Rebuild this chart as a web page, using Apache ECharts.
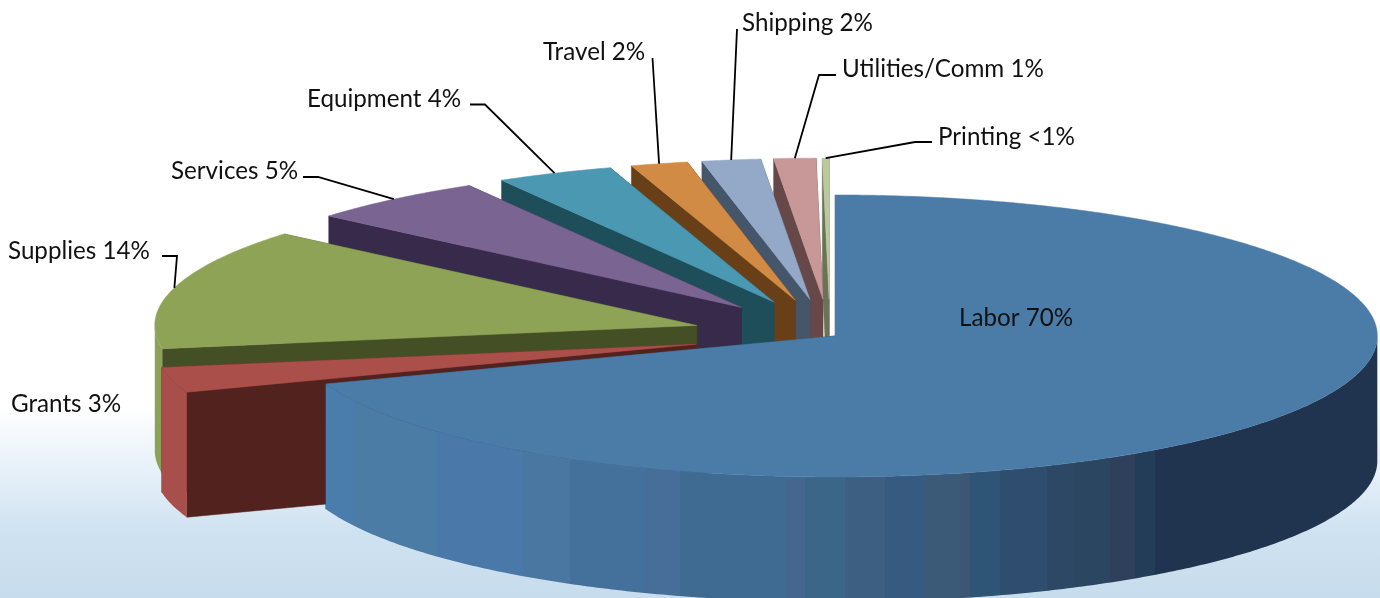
<!DOCTYPE html>
<html>
<head>
<meta charset="utf-8">
<title>Expenses</title>
<script src="https://cdn.jsdelivr.net/npm/echarts@6/dist/echarts.min.js"></script>
<style>
html, body { margin: 0; padding: 0; background: #fff; }
#main { width: 1380px; height: 598px; }
</style>
</head>
<body>
<div id="main"></div>
<script>
// the data, in the order the pie runs clockwise from twelve o'clock
var categories = ['Labor', 'Grants', 'Supplies', 'Services', 'Equipment', 'Travel', 'Shipping', 'Utilities/Comm', 'Printing'];
var shares = [69.6, 2.9, 13.9, 5.4, 3.5, 1.7, 1.75, 1.25, 0.2];
var shareLabels = ['70%', '3%', '14%', '5%', '4%', '2%', '2%', '1%', '<1%'];

// layout, kept apart from the data
var pieCenter = [830, 335];
var radiusX = 542, radiusY = 141, depth = 125;
var explode = [0.012, 0.255, 0.255, 0.255, 0.255, 0.255, 0.255, 0.255, 0.255];
var topColors = ['#4b7ba7', '#ab4f4b', '#8fa357', '#7a6592', '#4a98b1', '#d28b45', '#94a9c8', '#c89898', '#b9c99d'];
var faceColors = ['#2f4766', '#52221f', '#454f26', '#372a4a', '#1f4e5b', '#693f17', '#45566b', '#664848', '#6a7355'];
var rimColors = ['#4b7ba7', '#a84f4b', '#8ea257', '#7a6592', '#4a98b1', '#d28b45', '#94a9c8', '#c89898', '#b9c99d'];
// the labor rim is shaded in flat vertical bands: [right edge of band, colour]
var laborRimBands = [
    [353, '#4a7cac'], [437, '#4b7ca6'], [523, '#4a78a9'], [570, '#4a77a2'], [645, '#44719c'],
    [680, '#476d99'], [786, '#3f6a91'], [805, '#44668f'], [845, '#3c6687'], [885, '#3d5f82'],
    [925, '#365a80'], [960, '#3a5a77'], [970, '#3c5673'], [1000, '#2e5476'], [1047, '#2f4d6e'],
    [1075, '#2c4864'], [1110, '#2b4660'], [1135, '#2e405c'], [1155, '#233c57'], [1380, '#20344f']
];
// text left edge, text middle, then the line from beside the text
var labelPlaces = [
    { x: 959, y: 318 },
    { x: 11, y: 404 },
    { x: 8, y: 251, line: [[162, 256], [177, 256]] },
    { x: 171, y: 171, line: [[303, 177], [318, 177]] },
    { x: 307, y: 99, line: [[470, 104.5], [485, 104.5]] },
    { x: 543, y: 52, line: [[652.5, 58]] },
    { x: 742, y: 23, line: [[737, 29]] },
    { x: 842, y: 69, line: [[836, 75], [819, 75]] },
    { x: 938, y: 137, line: [[932, 142], [915, 142]] }
];

var total = shares.reduce(function (a, b) { return a + b; }, 0);
var starts = [];
shares.reduce(function (sum, v, i) { starts[i] = sum; return sum + v; }, 0);

function toRad(share) {
    return share / total * Math.PI * 2;
}

function laborRimFill() {
    var x0 = 325, x1 = 1380;
    var stops = [];
    var left = x0;
    laborRimBands.forEach(function (b) {
        stops.push({ offset: (left - x0) / (x1 - x0), color: b[1] });
        stops.push({ offset: (b[0] - x0) / (x1 - x0), color: b[1] });
        left = b[0];
    });
    return new echarts.graphic.LinearGradient(x0, 0, x1, 0, stops, true);
}

function renderSlice(params, api) {
    var i = api.value(0);
    var a0 = toRad(api.value(2));
    var a1 = a0 + toRad(api.value(1));
    var mid = (a0 + a1) / 2;
    var cx = pieCenter[0] + explode[i] * radiusX * Math.sin(mid);
    var cy = pieCenter[1] - explode[i] * radiusY * Math.cos(mid);

    function onRim(a) {
        return [cx + radiusX * Math.sin(a), cy - radiusY * Math.cos(a)];
    }
    function down(p) {
        return [p[0], p[1] + depth];
    }
    function poly(points, fill) {
        return { type: 'polygon', shape: { points: points }, style: { fill: fill, stroke: fill, lineWidth: 0.5 } };
    }
    function arc(from, to) {
        var pts = [];
        var n = Math.max(2, Math.ceil((to - from) / 0.01));
        for (var k = 0; k <= n; k++) {
            pts.push(onRim(from + (to - from) * k / n));
        }
        return pts;
    }

    var tip = [cx, cy];
    var children = [
        poly([tip, onRim(a1), down(onRim(a1)), down(tip)], faceColors[i]),
        poly([tip, onRim(a0), down(onRim(a0)), down(tip)], faceColors[i])
    ];

    // only the part of the rim that faces the viewer
    var rimFrom = Math.max(a0, Math.PI / 2);
    var rimTo = Math.min(a1, Math.PI * 1.5);
    if (rimTo > rimFrom) {
        var upper = arc(rimFrom, rimTo);
        var rimFill = i === 0 ? laborRimFill() : rimColors[i];
        children.push({
            type: 'polygon',
            shape: { points: upper.concat(upper.slice().reverse().map(down)) },
            style: { fill: rimFill }
        });
    }

    children.push(poly([tip].concat(arc(a0, a1)), topColors[i]));
    return { type: 'group', children: children };
}

function renderLabel(params, api) {
    var i = api.value(0);
    var a0 = toRad(api.value(2));
    var mid = a0 + toRad(api.value(1)) / 2;
    var cx = pieCenter[0] + explode[i] * radiusX * Math.sin(mid);
    var cy = pieCenter[1] - explode[i] * radiusY * Math.cos(mid);
    var place = labelPlaces[i];
    var children = [{
        type: 'text',
        style: {
            x: place.x, y: place.y, text: categories[i] + ' ' + shareLabels[i],
            fontFamily: 'Lato', fontSize: 24.2, fill: '#111', align: 'left', verticalAlign: 'middle'
        }
    }];
    if (place.line) {
        var end = [cx + radiusX * Math.sin(mid), cy - radiusY * Math.cos(mid)];
        children.push({
            type: 'polyline',
            shape: { points: place.line.concat([end]) },
            style: { stroke: '#000', lineWidth: 1.8, fill: null }
        });
    }
    return { type: 'group', children: children };
}

// painted from the back slice forwards so Labor ends up on top
var sliceRows = categories.map(function (name, i) {
    return { name: name, value: [i, shares[i], starts[i]] };
});
var backToFront = sliceRows.slice().reverse();

var myChart = echarts.init(document.getElementById('main'));
var option = {
    animation: false,
    backgroundColor: new echarts.graphic.LinearGradient(0, 0, 0, 1, [
        { offset: 0, color: '#ffffff' },
        { offset: 0.68, color: '#ffffff' },
        { offset: 0.89, color: '#cfe2f1' },
        { offset: 1, color: '#c7dcec' }
    ]),
    series: [
        { type: 'custom', coordinateSystem: 'none', renderItem: renderSlice, data: backToFront, silent: true },
        { type: 'custom', coordinateSystem: 'none', renderItem: renderLabel, data: sliceRows, silent: true }
    ]
};
myChart.setOption(option);
</script>
</body>
</html>
